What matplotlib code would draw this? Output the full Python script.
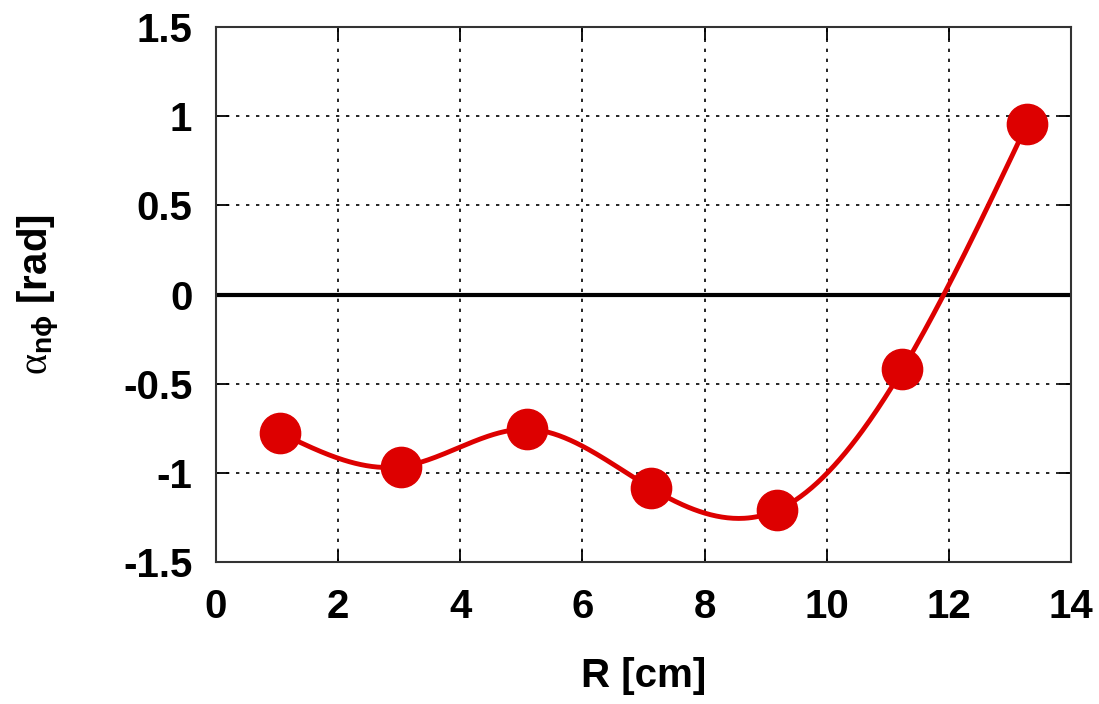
import numpy as np
import matplotlib
matplotlib.use("Agg")
import matplotlib.pyplot as plt

R = [1.05, 3.03, 5.10, 7.12, 9.19, 11.24, 13.28]
alpha = [-0.775, -0.965, -0.755, -1.085, -1.21, -0.42, 0.955]
xticks = [0, 2, 4, 6, 8, 10, 12, 14]
yticks = [-1.5, -1, -0.5, 0, 0.5, 1, 1.5]
ytick_labels = ["-1.5", "-1", "-0.5", "0", "0.5", "1", "1.5"]


def natural_spline(x, y, xs):
    x = np.asarray(x, float); y = np.asarray(y, float)
    n = len(x)
    h = np.diff(x)
    A = np.zeros((n, n)); b = np.zeros(n)
    A[0, 0] = 1; A[-1, -1] = 1
    for i in range(1, n - 1):
        A[i, i - 1] = h[i - 1]
        A[i, i] = 2 * (h[i - 1] + h[i])
        A[i, i + 1] = h[i]
        b[i] = 3 * ((y[i + 1] - y[i]) / h[i] - (y[i] - y[i - 1]) / h[i - 1])
    c = np.linalg.solve(A, b)
    out = np.empty_like(xs)
    for k, xv in enumerate(xs):
        i = min(max(np.searchsorted(x, xv) - 1, 0), n - 2)
        d = (c[i + 1] - c[i]) / (3 * h[i])
        bb = (y[i + 1] - y[i]) / h[i] - h[i] * (2 * c[i] + c[i + 1]) / 3
        t = xv - x[i]
        out[k] = y[i] + bb * t + c[i] * t ** 2 + d * t ** 3
    return out


plt.rcParams['font.family'] = ['Liberation Sans', 'DejaVu Sans']
plt.rcParams['mathtext.fontset'] = 'custom'
plt.rcParams['mathtext.rm'] = 'Liberation Serif'
plt.rcParams['mathtext.bf'] = 'Liberation Sans:bold'
plt.rcParams['mathtext.it'] = 'Liberation Serif'

fig = plt.figure(figsize=(10.99, 7.04), dpi=100)
ax = fig.add_axes([0.1965, 0.2017, 0.778, 0.7599])

ax.set_xlim(0, 14)
ax.set_ylim(-1.5, 1.5)
ax.set_xticks(xticks)
ax.set_yticks(yticks)
ax.set_yticklabels(ytick_labels)
ax.grid(True, color='black', linestyle=(0, (2, 4)), linewidth=1.2)
ax.axhline(0, color='black', linewidth=3, zorder=2)

xs = np.linspace(min(R), max(R), 400)
ax.plot(xs, natural_spline(R, alpha, xs), color='#dd0000', linewidth=3.5, zorder=3)
ax.plot(R, alpha, 'o', color='#dd0000', markersize=29, zorder=4)

ax.tick_params(direction='in', length=9, width=1.3, top=True, right=True,
               labelsize=29)
ax.tick_params(axis='x', pad=19)
ax.tick_params(axis='y', pad=17)
for lbl in ax.get_xticklabels() + ax.get_yticklabels():
    lbl.set_fontweight('bold')
for s in ax.spines.values():
    s.set_linewidth(1.5)
    s.set_color('#333333')

ax.set_xlabel('R [cm]', fontsize=29, fontweight='bold', labelpad=22)
ax.set_ylabel(r'$\alpha_{\mathbf{n\phi}}$ [rad]', fontsize=29, fontweight='bold', labelpad=44)

fig.savefig('out.png', dpi=100)
